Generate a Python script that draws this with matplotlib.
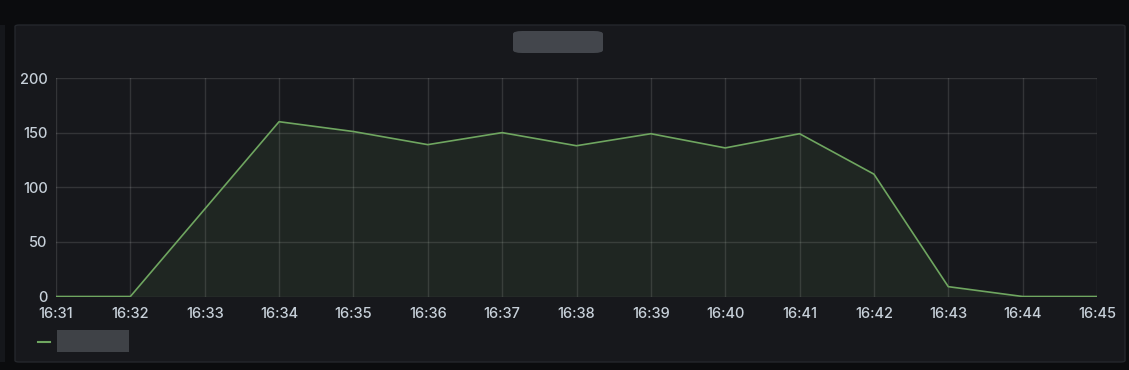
import matplotlib
matplotlib.use("Agg")
import matplotlib.pyplot as plt
import matplotlib.dates as mdates
from matplotlib.patches import FancyBboxPatch, Rectangle
import numpy as np

# data
times = ["16:31", "16:32", "16:33", "16:34", "16:35", "16:36", "16:37", "16:38",
         "16:39", "16:40", "16:41", "16:42", "16:43", "16:44", "16:45"]
values = [0, 0, 80, 160, 151, 139, 150, 138, 149, 136, 149, 112, 9, 0, 0]
y_ticks = [0, 50, 100, 150, 200]

x = np.array(["2024-01-01T" + t for t in times], dtype="datetime64[m]").astype("datetime64[s]").tolist()

plt.rcParams['font.family'] = ['Inter', 'DejaVu Sans']
plt.rcParams['font.weight'] = 'medium'

W, H = 1129, 370
fig = plt.figure(figsize=(W / 100, H / 100), dpi=100)
fig.patch.set_facecolor("#0b0c0e")

# panel background (kept behind the axes)
panel = FancyBboxPatch((15 / W, (H - 362) / H), 1110 / W, 337 / H,
                       boxstyle="round,pad=0,rounding_size=0.004",
                       transform=fig.transFigure, facecolor="#17181c",
                       edgecolor="#24272c", linewidth=1.0, zorder=-5)
fig.patches.append(panel)
# sliver of the neighbouring panel on the left
fig.patches.append(Rectangle((0, (H - 362) / H), 5 / W, 337 / H,
                             transform=fig.transFigure, facecolor="#15171b",
                             edgecolor="none", zorder=-5))

ax = fig.add_axes([56 / W, (H - 296.5) / H, (1097 - 56) / W, (296.5 - 78) / H])
ax.patch.set_alpha(0)

green = "#6fa660"
ax.fill_between(x, values, 0, color=green, alpha=0.1, linewidth=0)
ax.plot(x, values, color=green, linewidth=1.2)

ax.set_ylim(0, 200)
ax.set_xlim(x[0], x[-1])
ax.set_yticks(y_ticks)
ax.xaxis.set_major_locator(mdates.MinuteLocator())
ax.xaxis.set_major_formatter(mdates.DateFormatter("%H:%M"))

ax.grid(True, color="#ffffff", alpha=0.12, linewidth=1)
ax.set_axisbelow(True)
for s in ax.spines.values():
    s.set_visible(False)
ax.tick_params(length=0, colors="#c7d0d9", labelsize=10.5)
ax.tick_params(axis="y", pad=6)
ax.tick_params(axis="x", pad=7.5)

# redacted title block
fig.patches.append(FancyBboxPatch((513 / W, (H - 53) / H), 90 / W, 22 / H,
                                  boxstyle="round,pad=0,rounding_size=0.008",
                                  transform=fig.transFigure,
                                  facecolor="#43464c", edgecolor="none"))

# legend: green dash + redacted label
fig.add_artist(plt.Line2D([38 / W, 50 / W], [(H - 342) / H] * 2, color=green,
                          linewidth=1.5, transform=fig.transFigure))
fig.patches.append(Rectangle((57 / W, (H - 352) / H), 72 / W, 22 / H,
                             transform=fig.transFigure, facecolor="#3f4247",
                             edgecolor="none"))

fig.savefig("out.png", dpi=100, facecolor=fig.get_facecolor())
